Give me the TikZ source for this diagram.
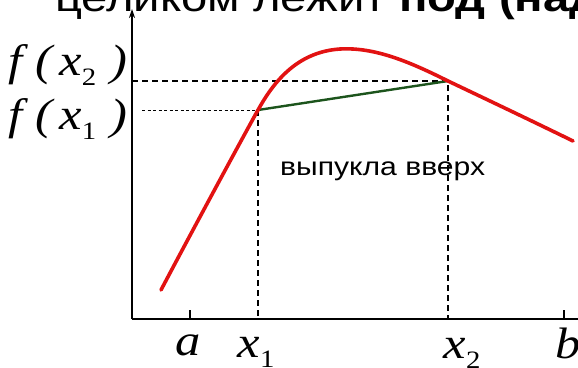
\documentclass[tikz,border=0pt]{standalone}
\usepackage{fontspec}
\usepackage{tikz}
\usetikzlibrary{arrows.meta}
\newfontfamily\slidesans[FakeStretch=1.18]{Liberation Sans}
\newfontfamily\slideserif[FakeStretch=1.15]{Liberation Serif}
\newcommand{\lowsub}[1]{\raisebox{-0.24em}{\fontsize{25}{25}\selectfont\upshape #1}}
\definecolor{curvered}{RGB}{226,18,18}
\definecolor{chordgreen}{RGB}{28,84,28}

\begin{document}
\begin{tikzpicture}[
  x=1pt, y=-1pt,
  axis/.style={line width=1.8pt, black},
  tick/.style={line width=1.2pt, black},
  guide/.style={line width=1.6pt, dash pattern=on 6pt off 4pt},
  thinguide/.style={line width=1pt, dash pattern=on 3pt off 2.5pt},
  graph/.style={line width=3.6pt, curvered, line cap=round},
  chord/.style={line width=2.4pt, chordgreen},
  lbl/.style={inner sep=0pt, font=\slideserif\itshape\fontsize{44}{44}\selectfont},
  sans/.style={inner sep=0pt, font=\slidesans\fontsize{25.5}{25.5}\selectfont}
]
\clip (0,0) rectangle (578,367);

% Title (cut at top)
\node[sans, anchor=base west, font=\slidesans\fontsize{40}{40}\selectfont] (title)
  at (55,11) {целиком лежит \textbf{под (над}};

% Axes
\coordinate (O) at (132,319);
\coordinate (ytop) at (132,9);
\coordinate (xend) at (582,319);
\draw[axis, -{Stealth[length=9pt, width=6pt]}] (O) -- (ytop);
\draw[axis] (O) -- (xend);
\coordinate (ta) at (190,319);
\coordinate (tb) at (564,319);
\draw[tick] (ta) -- ++(0,-9);
\draw[tick] (tb) -- ++(0,-9);

% Points on the curve
\coordinate (P1) at (258,110);
\coordinate (P2) at (448,81);

% Guides
\draw[guide] (O |- P2) -- (P2) -- (P2 |- O);
\draw[thinguide] (142,110) -- (P1);
\draw[guide] (P1) -- (P1 |- O);

% Chord and curve
\draw[chord] (P1) -- (P2);
\draw[graph] (161,290) .. controls (190,235) and (244,135) .. (P1)
  .. controls (272,85) and (295,52) .. (340,49)
  .. controls (375,47) and (410,62) .. (P2)
  .. controls (490,101) and (530,120) .. (573,141);

\node[sans, anchor=base west] (convex) at (280,175) {выпукла вверх};

% Labels
\node[lbl, anchor=base east] (fx2) at (128,75) {f\;(\,x\lowsub{2}\,\,)};
\node[lbl, anchor=base east] (fx1) at (128,129) {f\;(\,x\lowsub{1}\,\,)};
\node[lbl, anchor=base] (la) at (188,355) {a};
\node[lbl, anchor=base] (lx1) at (256,357) {x\lowsub{1}};
\node[lbl, anchor=base] (lx2) at (462,358) {x\lowsub{2}};
\node[lbl, anchor=base] (lb) at (568,358) {b};
\end{tikzpicture}
\end{document}
